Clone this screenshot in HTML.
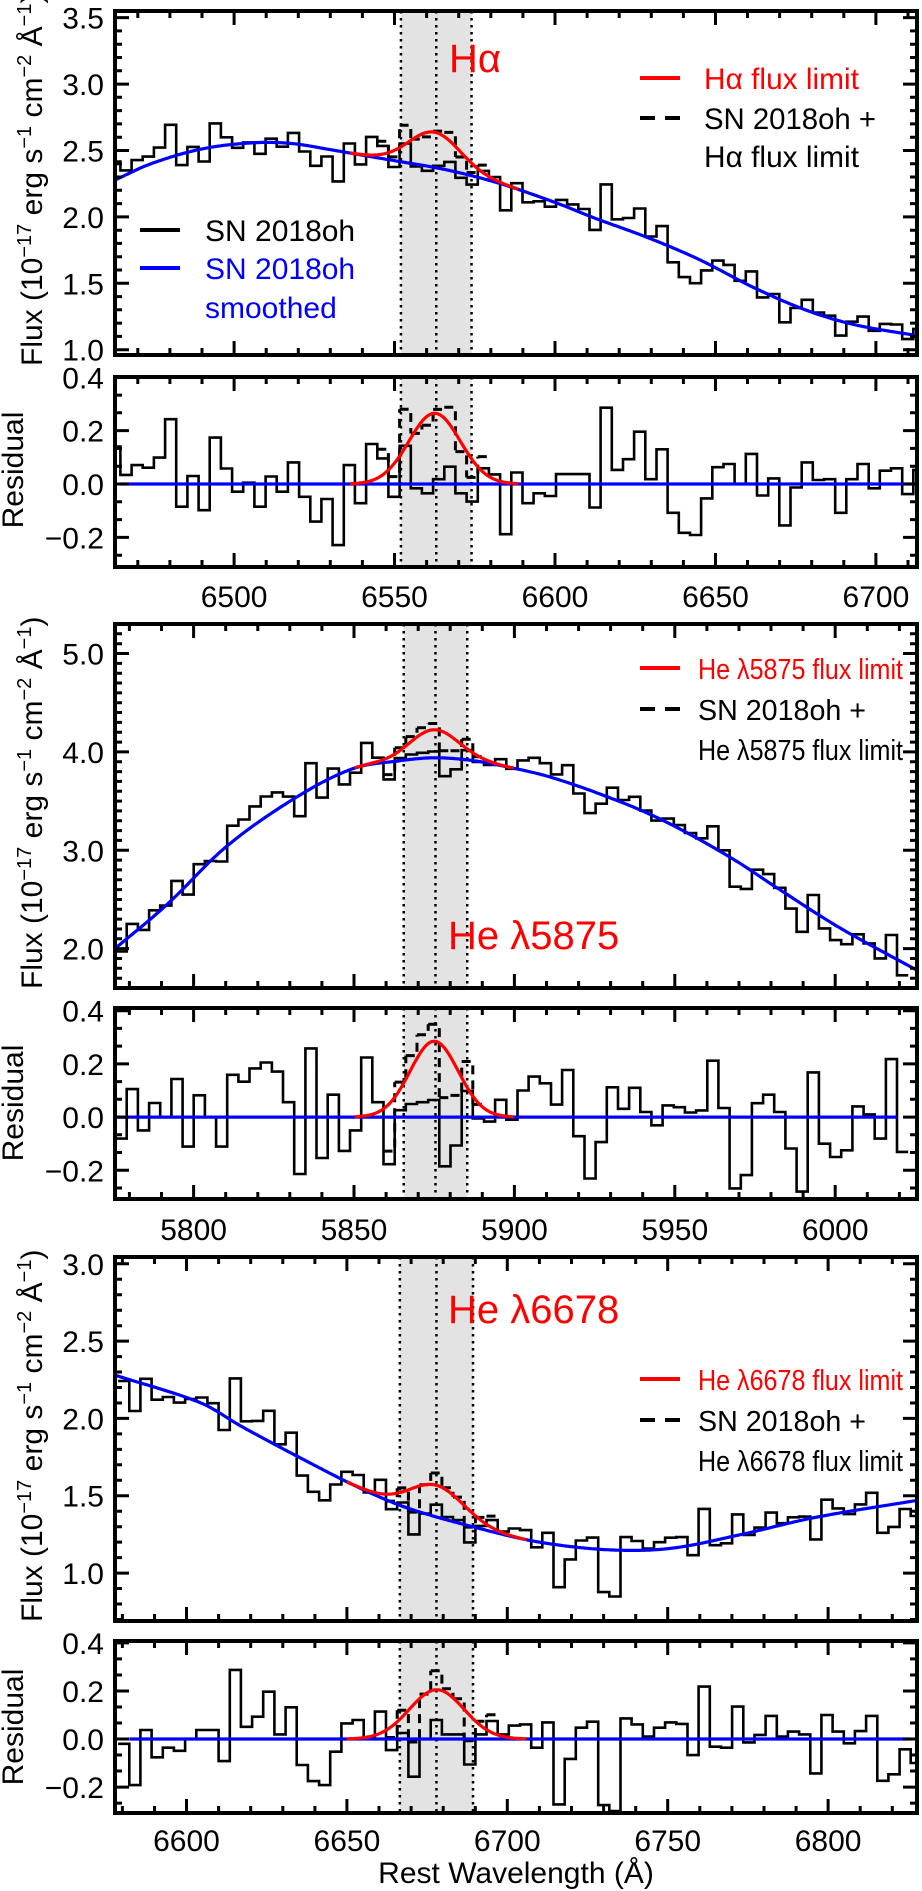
<!DOCTYPE html>
<html>
<head>
<meta charset="utf-8">
<style>
  html, body { margin: 0; padding: 0; background: #ffffff; }
  svg { display: block; font-family: "Liberation Sans", Arial, sans-serif; }
</style>
</head>
<body>
<svg id="fig" width="922" height="1891" viewBox="0 0 922 1891" xmlns="http://www.w3.org/2000/svg">
  <defs>
    <clipPath id="clipP1"><rect x="115" y="11" width="802" height="344"/></clipPath>
    <clipPath id="clipR1"><rect x="115" y="377" width="802" height="190"/></clipPath>
    <clipPath id="clipP2"><rect x="115" y="624" width="802" height="364"/></clipPath>
    <clipPath id="clipR2"><rect x="115" y="1008" width="802" height="191"/></clipPath>
    <clipPath id="clipP3"><rect x="115" y="1257" width="802" height="364"/></clipPath>
    <clipPath id="clipR3"><rect x="115" y="1641" width="802" height="172"/></clipPath>
  </defs>

  <!-- Axis titles -->
  <text transform="translate(42,366) rotate(-90)" font-size="30" text-anchor="start">Flux (10<tspan font-size="20" dy="-11">−17</tspan><tspan dy="11"> erg s</tspan><tspan font-size="20" dy="-11">−1</tspan><tspan dy="11"> cm</tspan><tspan font-size="20" dy="-11">−2</tspan><tspan dy="11"> Å</tspan><tspan font-size="20" dy="-11">−1</tspan><tspan dy="11">)</tspan></text>
  <text transform="translate(42,989) rotate(-90)" font-size="30" text-anchor="start">Flux (10<tspan font-size="20" dy="-11">−17</tspan><tspan dy="11"> erg s</tspan><tspan font-size="20" dy="-11">−1</tspan><tspan dy="11"> cm</tspan><tspan font-size="20" dy="-11">−2</tspan><tspan dy="11"> Å</tspan><tspan font-size="20" dy="-11">−1</tspan><tspan dy="11">)</tspan></text>
  <text transform="translate(42,1622) rotate(-90)" font-size="30" text-anchor="start">Flux (10<tspan font-size="20" dy="-11">−17</tspan><tspan dy="11"> erg s</tspan><tspan font-size="20" dy="-11">−1</tspan><tspan dy="11"> cm</tspan><tspan font-size="20" dy="-11">−2</tspan><tspan dy="11"> Å</tspan><tspan font-size="20" dy="-11">−1</tspan><tspan dy="11">)</tspan></text>
  <text transform="translate(23,470) rotate(-90)" font-size="30" text-anchor="middle">Residual</text>
  <text transform="translate(23,1103) rotate(-90)" font-size="30" text-anchor="middle">Residual</text>
  <text transform="translate(23,1727) rotate(-90)" font-size="30" text-anchor="middle">Residual</text>
  <text x="516" y="1883" font-size="30" text-anchor="middle">Rest Wavelength (Å)</text>

  <g id="overlay">
  <!-- Line labels -->
  <text x="449" y="72" font-size="40" fill="#ff0000">Hα</text>
  <text x="448" y="949" font-size="40" fill="#ff0000">He λ5875</text>
  <text x="448" y="1323" font-size="40" fill="#ff0000">He λ6678</text>

  <!-- Legends -->
  <g>
    <line x1="140" y1="230" x2="180" y2="230" stroke="#000" stroke-width="4"/>
    <text x="205" y="241" font-size="30">SN 2018oh</text>
    <line x1="140" y1="268" x2="180" y2="268" stroke="#0000ff" stroke-width="4"/>
    <text x="205" y="279" font-size="30" fill="#0000ff">SN 2018oh</text>
    <text x="205" y="318" font-size="30" fill="#0000ff">smoothed</text>
  </g>
  <g>
    <line x1="640" y1="78" x2="680" y2="78" stroke="#ff0000" stroke-width="4"/>
    <text x="704" y="89" font-size="30" fill="#ff0000" textLength="155" lengthAdjust="spacingAndGlyphs">Hα flux limit</text>
    <line x1="640" y1="118" x2="680" y2="118" stroke="#000" stroke-width="4" stroke-dasharray="15,10"/>
    <text x="704" y="129" font-size="30" textLength="172" lengthAdjust="spacingAndGlyphs">SN 2018oh +</text>
    <text x="704" y="167" font-size="30" textLength="155" lengthAdjust="spacingAndGlyphs">Hα flux limit</text>
  </g>
  <g>
    <line x1="640" y1="668" x2="680" y2="668" stroke="#ff0000" stroke-width="4"/>
    <text x="698" y="679" font-size="29" fill="#ff0000" textLength="205" lengthAdjust="spacingAndGlyphs">He λ5875 flux limit</text>
    <line x1="640" y1="709" x2="680" y2="709" stroke="#000" stroke-width="4" stroke-dasharray="15,10"/>
    <text x="698" y="720" font-size="29" textLength="168" lengthAdjust="spacingAndGlyphs">SN 2018oh +</text>
    <text x="698" y="760" font-size="29" textLength="205" lengthAdjust="spacingAndGlyphs">He λ5875 flux limit</text>
  </g>
  <g>
    <line x1="640" y1="1379" x2="680" y2="1379" stroke="#ff0000" stroke-width="4"/>
    <text x="698" y="1390" font-size="29" fill="#ff0000" textLength="205" lengthAdjust="spacingAndGlyphs">He λ6678 flux limit</text>
    <line x1="640" y1="1420" x2="680" y2="1420" stroke="#000" stroke-width="4" stroke-dasharray="15,10"/>
    <text x="698" y="1431" font-size="29" textLength="168" lengthAdjust="spacingAndGlyphs">SN 2018oh +</text>
    <text x="698" y="1471" font-size="29" textLength="205" lengthAdjust="spacingAndGlyphs">He λ6678 flux limit</text>
  </g>
  </g>
</svg>

<script>
// ---------------- DATA ----------------
// H-alpha set
const haSmoothLam = [6462.9, 6474.1, 6489.7, 6505.3, 6517.7, 6530, 6541, 6552, 6563, 6574, 6585, 6601, 6612, 6629, 6645, 6662, 6678, 6693, 6713];
const haSmoothVal = [2.277, 2.40, 2.51, 2.557, 2.553, 2.506, 2.46, 2.415, 2.37, 2.31, 2.235, 2.10, 1.994, 1.843, 1.678, 1.467, 1.30, 1.19, 1.105];
const haResid = [0.14, 0.034, 0.071, 0.061, 0.099, 0.243, -0.085, 0.03, -0.098, 0.174, 0.058, -0.029, 0.005, -0.085, 0.028, -0.029, 0.081, -0.048, -0.141, -0.056, -0.229, 0.071, -0.072, 0.15, 0.096, -0.048, 0.143, -0.016, -0.035, 0.018, 0.065, -0.035, -0.066, 0.059, 0.036, -0.188, 0.043, -0.072, -0.035, -0.045, 0.037, 0.037, 0.037, -0.088, 0.286, 0.053, 0.093, 0.196, 0.018, 0.13, -0.108, -0.183, -0.191, -0.054, 0.063, 0.075, 0, 0.113, -0.043, 0.021, -0.155, -0.013, 0.081, 0.015, 0.018, -0.108, 0.018, 0.075, -0.016, 0.05, 0.059, -0.038, 0.053];
const haBin = [6461.1, 3.48];
const haLine = [6562.5, 0.265, 8.0];
const haWindow = [6552, 6563, 6574];
const haXTicks = [6500, 6550, 6600, 6650, 6700];
const haFluxTicks = [1.0, 1.5, 2.0, 2.5, 3.0, 3.5];

// He 5875 set
const h5SmoothLam = [5775.5, 5791.6, 5810.3, 5832.1, 5849.7, 5864.3, 5874.7, 5885, 5894.4, 5911.6, 5934, 5949, 5967.7, 5982.7, 6001, 6025.5];
const h5SmoothVal = [2.0, 2.445, 3.04, 3.54, 3.83, 3.91, 3.94, 3.92, 3.87, 3.74, 3.48, 3.26, 2.92, 2.6, 2.22, 1.78];
const h5Resid = [-0.08, -0.081, 0.105, -0.05, 0.053, 0, 0.143, -0.111, 0.082, 0, -0.111, 0.159, 0.133, 0.183, 0.205, 0.171, 0.056, -0.214, 0.258, -0.154, 0.084, -0.127, -0.05, 0.224, 0.056, -0.177, 0.026, 0.049, 0.056, 0.064, -0.185, -0.107, 0.098, -0.005, -0.017, 0.065, -0.01, 0.1, 0.152, 0.127, 0.047, 0.177, -0.072, -0.231, -0.094, 0.112, 0.031, 0.11, 0.019, -0.031, 0.044, 0.037, 0.017, 0.025, 0.212, 0.034, -0.268, -0.218, 0.052, 0.084, 0.019, -0.118, -0.28, 0.168, -0.1, -0.15, -0.125, 0.04, 0.01, -0.081, 0.218, -0.131];
const h5Bin = [5772.2, 3.48];
const h5Line = [5875.0, 0.285, 7.5];
const h5Window = [5865.5, 5875.4, 5885.3];
const h5XTicks = [5800, 5850, 5900, 5950, 6000];
const h5FluxTicks = [2.0, 3.0, 4.0, 5.0];

// He 6678 set
const h6SmoothLam = [6577.7, 6604.5, 6617, 6635, 6654, 6669, 6691, 6710, 6732, 6751, 6773, 6796, 6827.7];
const h6SmoothVal = [2.28, 2.10, 1.95, 1.75, 1.55, 1.42, 1.29, 1.2, 1.15, 1.16, 1.25, 1.36, 1.47];
const h6Resid = [-0.02, -0.192, 0.0375, -0.076, -0.036, -0.049, 0, 0.0375, 0.0375, -0.092, 0.2875, 0.051, 0.093, 0.197, 0.019, 0.132, -0.108, -0.175, -0.192, -0.053, 0.065, 0.079, 0, 0.114, -0.046, 0.025, -0.157, 0, 0.079, 0.019, 0.019, -0.106, 0.019, 0.075, 0.019, 0.056, 0.061, -0.036, 0.069, -0.272, -0.083, 0.047, 0.072, -0.275, -0.3, 0.086, 0.061, 0.01, 0.047, 0.069, 0.063, -0.067, 0.218, -0.032, -0.036, 0.135, -0.014, 0.017, 0.096, 0.01, 0.031, 0.019, -0.143, 0.1, 0.031, -0.018, 0.033, 0.096, -0.174, -0.147, -0.043, -0.1];
const h6Bin = [6578.67, 3.48];
const h6Line = [6678.0, 0.205, 8.5];
const h6Window = [6666.5, 6677.9, 6689.3];
const h6XTicks = [6600, 6650, 6700, 6750, 6800];
const h6FluxTicks = [1.0, 1.5, 2.0, 2.5, 3.0];

const residTicks = [-0.2, 0.0, 0.2, 0.4];

// ---------------- LAYOUT ----------------
const NS = 'http://www.w3.org/2000/svg';
const svg = document.getElementById('fig');
const XL = 115, XR = 917;

function el(tag, attrs, parent) {
  const e = document.createElementNS(NS, tag);
  for (const k in attrs) e.setAttribute(k, attrs[k]);
  (parent || svg).appendChild(e);
  return e;
}

function smoothAt(L, V, x) {
  const n = L.length;
  if (x <= L[0]) return V[0] + (V[1] - V[0]) / (L[1] - L[0]) * (x - L[0]);
  if (x >= L[n - 1]) return V[n - 1] + (V[n - 1] - V[n - 2]) / (L[n - 1] - L[n - 2]) * (x - L[n - 1]);
  let i = 0;
  while (i < n - 2 && x > L[i + 1]) i++;
  const slope = (j) => {
    if (j === 0) return (V[1] - V[0]) / (L[1] - L[0]);
    if (j === n - 1) return (V[n - 1] - V[n - 2]) / (L[n - 1] - L[n - 2]);
    return (V[j + 1] - V[j - 1]) / (L[j + 1] - L[j - 1]);
  };
  const h = L[i + 1] - L[i], t = (x - L[i]) / h;
  const t2 = t * t, t3 = t2 * t;
  return (2 * t3 - 3 * t2 + 1) * V[i] + (t3 - 2 * t2 + t) * h * slope(i) +
         (-2 * t3 + 3 * t2) * V[i + 1] + (t3 - t2) * h * slope(i + 1);
}

function gauss(line, x) {
  return line[1] * Math.exp(-((x - line[0]) * (x - line[0])) / (2 * line[2] * line[2]));
}

function drawSet(cfg) {
  const xmin = cfg.xmin, xmax = cfg.xmax;
  const sx = (l) => XL + (l - xmin) / (xmax - xmin) * (XR - XL);
  const fy = (v) => cfg.fBot - (v - cfg.fMin) / (cfg.fMax - cfg.fMin) * (cfg.fBot - cfg.fTop);
  const ry = (v) => cfg.rBot - (v - cfg.rMin) / (cfg.rMax - cfg.rMin) * (cfg.rBot - cfg.rTop);
  const n = cfg.resid.length;
  const b0 = cfg.bin[0], bw = cfg.bin[1];
  const center = (k) => b0 + (k + 0.5) * bw;
  const flux = cfg.resid.map((r, k) => smoothAt(cfg.sLam, cfg.sVal, center(k)) + r);

  const panels = [
    { top: cfg.fTop, bot: cfg.fBot, clip: cfg.clipF, kind: 'flux' },
    { top: cfg.rTop, bot: cfg.rBot, clip: cfg.clipR, kind: 'residual' }
  ];

  panels.forEach(function (p) {
    const g = el('g', { 'clip-path': 'url(#' + p.clip + ')' });
    
    
    const yF = p.kind === 'flux' ? fy : ry;
    const vals = p.kind === 'flux' ? flux : cfg.resid;

    const sh = el('rect', { x: sx(cfg.win[0]), y: p.top, width: sx(cfg.win[2]) - sx(cfg.win[0]), height: p.bot - p.top, fill: '#e3e3e3' }, g);
    
    
    cfg.win.forEach(function (w, i) {
      const dl = el('line', { x1: sx(w), x2: sx(w), y1: p.top, y2: p.bot, stroke: '#000', 'stroke-width': 2.5, 'stroke-dasharray': '2.5,4.5' }, g);
      
      
    });

    let dd = '';
    for (let k = 0; k < n; k++) {
      const gv = gauss(cfg.line, center(k));
      if (gv < 0.025) continue;
      const x0 = sx(b0 + k * bw), x1 = sx(b0 + (k + 1) * bw);
      const y = yF(vals[k] + gv);
      dd += 'M' + x0.toFixed(1) + ' ' + y.toFixed(1) + 'H' + x1.toFixed(1) + ' ';
      const gn = k + 1 < n ? gauss(cfg.line, center(k + 1)) : 0;
      if (gn >= 0.025) dd += 'V' + yF(vals[k + 1] + gn).toFixed(1) + ' ';
    }
    const dashed = el('path', { d: dd, fill: 'none', stroke: '#000', 'stroke-width': 3, 'stroke-dasharray': '9,6' }, g);
    
    

    let d = '';
    for (let k = 0; k < n; k++) {
      const x0 = sx(Math.max(b0 + k * bw, xmin - 2)), x1 = sx(b0 + (k + 1) * bw);
      const y = yF(vals[k]).toFixed(1);
      if (k === 0) d += 'M' + x0.toFixed(1) + ' ' + y; else d += 'V' + y;
      d += 'H' + x1.toFixed(1);
    }
    const hist = el('path', { d: d, fill: 'none', stroke: '#000', 'stroke-width': 2.6, 'stroke-linejoin': 'miter' }, g);
    
    

    let bd = '';
    if (p.kind === 'flux') {
      for (let l = xmin; l <= xmax + 0.01; l += 0.5) bd += (bd ? 'L' : 'M') + sx(l).toFixed(1) + ' ' + fy(smoothAt(cfg.sLam, cfg.sVal, l)).toFixed(1);
    } else {
      bd = 'M' + sx(b0 + bw).toFixed(1) + ' ' + ry(0).toFixed(1) + 'H' + sx(Math.min(b0 + (n - 1) * bw, xmax)).toFixed(1);
    }
    const blue = el('path', { d: bd, fill: 'none', stroke: '#0000ff', 'stroke-width': 3.2 }, g);
    
    

    let rd = '';
    for (let l = cfg.line[0] - 3.3 * cfg.line[2]; l <= cfg.line[0] + 3.3 * cfg.line[2]; l += 0.5) {
      const v = p.kind === 'flux' ? smoothAt(cfg.sLam, cfg.sVal, l) + gauss(cfg.line, l) : gauss(cfg.line, l);
      rd += (rd ? 'L' : 'M') + sx(l).toFixed(1) + ' ' + yF(v).toFixed(1);
    }
    const red = el('path', { d: rd, fill: 'none', stroke: '#ff0000', 'stroke-width': 3.2 }, g);
    
    

    let td = '';
    const lo = Math.ceil(xmin / 10) * 10;
    for (let l = lo; l <= xmax; l += 10) {
      const len = (l % 50 === 0) ? 14 : 7;
      const x = sx(l).toFixed(1);
      td += 'M' + x + ' ' + p.bot + 'v' + (-len) + 'M' + x + ' ' + p.top + 'v' + len;
    }
    const ymin = p.kind === 'flux' ? cfg.fMin : cfg.rMin;
    const ymax = p.kind === 'flux' ? cfg.fMax : cfg.rMax;
    const minor = p.kind === 'flux' ? 0.1 : 0.2 / 3;
    const major = p.kind === 'flux' ? cfg.fMajor : 0.2;
    for (let i = Math.ceil(ymin / minor - 1e-6); i * minor <= ymax + 1e-6; i++) {
      const v = i * minor;
      const isMaj = Math.abs(v / major - Math.round(v / major)) < 1e-4;
      const len = isMaj ? 14 : 7;
      const y = yF(v).toFixed(1);
      td += 'M' + XL + ' ' + y + 'h' + len + 'M' + XR + ' ' + y + 'h' + (-len);
    }
    const ticks = el('path', { d: td, fill: 'none', stroke: '#000', 'stroke-width': 3 });
    
    

    const fr = el('rect', { x: XL, y: p.top, width: XR - XL, height: p.bot - p.top, fill: 'none', stroke: '#000', 'stroke-width': 4 });
    
    

    const labs = p.kind === 'flux' ? cfg.fTicks : residTicks;
    labs.forEach(function (v) {
      const t = el('text', { x: 104, y: (yF(v) + 11).toFixed(1), 'font-size': 30, 'text-anchor': 'end' });
      t.textContent = (v < 0 ? '−' : '') + Math.abs(v).toFixed(1);
      
      
    });
  });

  cfg.xTicks.forEach(function (l) {
    const t = el('text', { x: sx(l).toFixed(1), y: cfg.xLabY, 'font-size': 30, 'text-anchor': 'middle' });
    t.textContent = String(l);
    
    
  });
}

drawSet({ id: 'halpha', xmin: 6462.9, xmax: 6712.8,
  fTop: 11, fBot: 355, fMin: 0.96, fMax: 3.55, fMajor: 0.5, fTicks: haFluxTicks,
  rTop: 377, rBot: 567, rMin: -0.311, rMax: 0.401,
  clipF: 'clipP1', clipR: 'clipR1', xLabY: 607,
  sLam: haSmoothLam, sVal: haSmoothVal, resid: haResid, bin: haBin, line: haLine, win: haWindow, xTicks: haXTicks });

drawSet({ id: 'he5875', xmin: 5775.5, xmax: 6025.5,
  fTop: 624, fBot: 988, fMin: 1.6, fMax: 5.3, fMajor: 1.0, fTicks: h5FluxTicks,
  rTop: 1008, rBot: 1199, rMin: -0.308, rMax: 0.41,
  clipF: 'clipP2', clipR: 'clipR2', xLabY: 1240,
  sLam: h5SmoothLam, sVal: h5SmoothVal, resid: h5Resid, bin: h5Bin, line: h5Line, win: h5Window, xTicks: h5XTicks });

drawSet({ id: 'he6678', xmin: 6577.7, xmax: 6827.7,
  fTop: 1257, fBot: 1621, fMin: 0.69, fMax: 3.044, fMajor: 0.5, fTicks: h6FluxTicks,
  rTop: 1641, rBot: 1813, rMin: -0.308, rMax: 0.408,
  clipF: 'clipP3', clipR: 'clipR3', xLabY: 1851,
  sLam: h6SmoothLam, sVal: h6SmoothVal, resid: h6Resid, bin: h6Bin, line: h6Line, win: h6Window, xTicks: h6XTicks });

// bring labels and legends to the front
svg.appendChild(document.getElementById('overlay'));
</script>
</body>
</html>
